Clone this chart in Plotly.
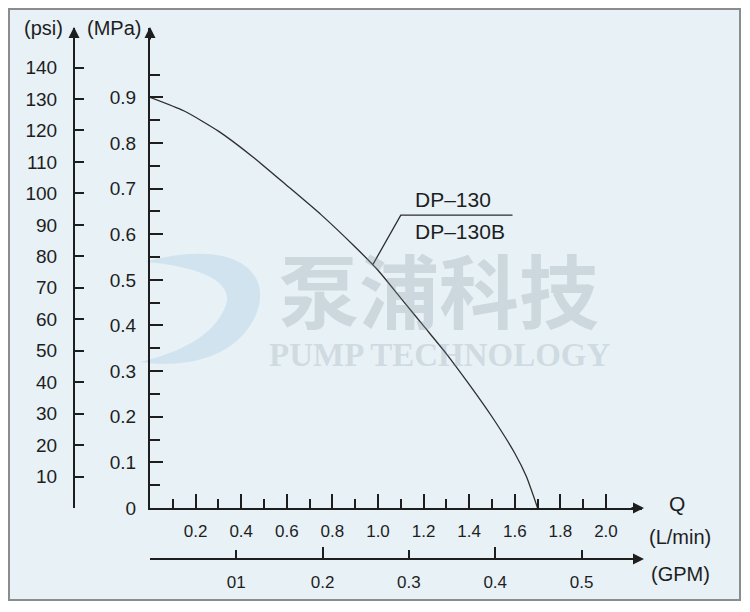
import plotly.graph_objects as go

# ---- data ----
flow_lpm = [0.0, 0.15, 0.30, 0.45, 0.60, 0.75, 0.90, 1.00, 1.10, 1.20, 1.30, 1.40, 1.50, 1.60, 1.65, 1.70]
pressure_mpa = [0.900, 0.870, 0.826, 0.770, 0.707, 0.643, 0.572, 0.521, 0.460, 0.399, 0.338, 0.271, 0.200, 0.120, 0.070, 0.000]

mpa_ticks = [0, 0.1, 0.2, 0.3, 0.4, 0.5, 0.6, 0.7, 0.8, 0.9]
mpa_labels = ["0", "0.1", "0.2", "0.3", "0.4", "0.5", "0.6", "0.7", "0.8", "0.9"]
mpa_minor = [0.05, 0.15, 0.25, 0.35, 0.45, 0.55, 0.65, 0.75, 0.85, 0.95]
psi_ticks = [10, 20, 30, 40, 50, 60, 70, 80, 90, 100, 110, 120, 130, 140]
lpm_ticks = [0.2, 0.4, 0.6, 0.8, 1.0, 1.2, 1.4, 1.6, 1.8, 2.0]
lpm_labels = ["0.2", "0.4", "0.6", "0.8", "1.0", "1.2", "1.4", "1.6", "1.8", "2.0"]
lpm_minor = [0.1, 0.3, 0.5, 0.7, 0.9, 1.1, 1.3, 1.5, 1.7, 1.9]
gpm_ticks = [0.1, 0.2, 0.3, 0.4, 0.5]
gpm_labels = ["01", "0.2", "0.3", "0.4", "0.5"]
gpm_long = [0.2, 0.4]
series_name = ["DP–130", "DP–130B"]

PSI_PER_MPA = 145.038
LPM_PER_GPM = 3.78541
X_MAX = 2.158
Y_MAX = 1.052

PAGE_OFF = 8          # browser body margin
W, H = 742, 604
ML, MR, MT, MB = 4, 4, 4, 4
PW, PH = W - ML - MR, H - MT - MB


def px(x):
    """page pixel x -> paper fraction"""
    return (x - PAGE_OFF - ML) / PW


def py(y):
    """page pixel y -> paper fraction"""
    return (H - MB - (y - PAGE_OFF)) / PH


INK = "#1e1e1e"
FONT = "Liberation Sans, Arial, sans-serif"
BG = "#e7f1f6"

fig = go.Figure()
fig.add_trace(go.Scatter(x=flow_lpm, y=pressure_mpa, mode="lines",
                         line=dict(color="#2e2e2e", width=1.3, shape="spline", smoothing=0.6),
                         hoverinfo="skip", showlegend=False))
# helper traces so the secondary axes get drawn
fig.add_trace(go.Scatter(x=[0], y=[0], xaxis="x2", yaxis="y2", mode="markers", marker=dict(opacity=0),
                         hoverinfo="skip", showlegend=False))
fig.add_trace(go.Scatter(x=[0], y=[0], xaxis="x3", yaxis="y", mode="markers", marker=dict(opacity=0),
                         hoverinfo="skip", showlegend=False))

xdom = [px(150), px(642)]
ydom = [py(508), py(28)]

common = dict(showgrid=False, zeroline=False, showline=True, linecolor=INK, linewidth=2,
              tickcolor=INK, tickwidth=2, ticks="inside", automargin=False,
              tickfont=dict(family=FONT, size=17, color=INK))
yfont = dict(family=FONT, size=19, color=INK)

fig.update_layout(
    width=W, height=H,
    margin=dict(l=ML, r=MR, t=MT, b=MB),
    paper_bgcolor="white", plot_bgcolor="rgba(0,0,0,0)",
    xaxis=dict(domain=xdom, range=[0, X_MAX], anchor="y", tickmode="array", tickvals=lpm_ticks, ticktext=lpm_labels,
               ticklen=14, ticklabelstandoff=7,
               minor=dict(tickmode="array", tickvals=lpm_minor, ticklen=9, tickwidth=1.6, tickcolor=INK, ticks="inside"),
               **common),
    yaxis=dict(domain=ydom, range=[0, Y_MAX], anchor="x", tickmode="array", tickvals=mpa_ticks, ticktext=mpa_labels,
               ticklen=13, ticklabelstandoff=8,
               minor=dict(tickmode="array", tickvals=mpa_minor, ticklen=10, tickwidth=1.6, tickcolor=INK, ticks="inside"),
               **{**common, "tickfont": yfont}),
    yaxis2=dict(domain=ydom, range=[0, Y_MAX * PSI_PER_MPA], overlaying="y", anchor="free", position=px(74), side="left",
                tickmode="array", tickvals=psi_ticks, ticklen=9, ticklabelstandoff=12,
                **{**common, "tickfont": yfont}),
    xaxis2=dict(domain=xdom, range=[0, X_MAX / LPM_PER_GPM], overlaying="x", anchor="free", position=py(559), side="bottom",
                tickmode="array", tickvals=gpm_ticks, ticktext=gpm_labels, ticklen=8, ticklabelstandoff=8, **common),
    xaxis3=dict(domain=xdom, range=[0, X_MAX / LPM_PER_GPM], overlaying="x", anchor="free", position=py(559), side="bottom",
                tickmode="array", tickvals=gpm_long, ticklen=12, showticklabels=False,
                **{**common, "showline": False}),
)

# chart panel with grey frame
fig.add_shape(type="rect", xref="paper", yref="paper", x0=px(9), x1=px(740), y0=py(600), y1=py(9),
              fillcolor=BG, line=dict(color="#8a8c8e", width=2), layer="below")

# faint logo swoosh
fig.add_shape(type="path", xref="paper", yref="paper", layer="below",
              path=(f"M {px(145)},{py(262)} C {px(232)},{py(238)} {px(272)},{py(270)} {px(257)},{py(312)} "
                    f"C {px(242)},{py(352)} {px(195)},{py(370)} {px(140)},{py(362)} "
                    f"C {px(182)},{py(352)} {px(215)},{py(335)} {px(226)},{py(305)} "
                    f"C {px(234)},{py(282)} {px(200)},{py(266)} {px(145)},{py(262)} Z"),
              fillcolor="rgba(190,215,232,0.55)", line=dict(width=0))

# watermark text
fig.add_annotation(x=px(439), y=py(287), xref="paper", yref="paper", text="泵浦科技", showarrow=False,
                   font=dict(family="Noto Sans CJK SC", size=80, color="rgba(140,150,162,0.28)", weight="bold"))
fig.add_annotation(x=px(439), y=py(355), xref="paper", yref="paper", text="PUMP TECHNOLOGY", showarrow=False,
                   font=dict(family="Liberation Serif, serif", size=33, color="rgba(140,150,162,0.25)", weight="bold"))

# axis arrowheads
for (tx, ty, ax, ay) in [(150, 27, 0, 14), (74, 27, 0, 14), (644, 508, -14, 0), (644, 559, -14, 0)]:
    fig.add_annotation(x=px(tx), y=py(ty), xref="paper", yref="paper", ax=ax, ay=ay, text="", showarrow=True,
                       arrowhead=2, arrowsize=1.1, arrowwidth=2, arrowcolor=INK)


def label(x, y, t, size=20, anchor="center"):
    fig.add_annotation(x=px(x), y=py(y), xref="paper", yref="paper", text=t, showarrow=False,
                       xanchor=anchor, yanchor="middle", font=dict(family=FONT, size=size, color=INK))


label(43, 28, "(psi)")
label(114, 28, "(MPa)")
label(677, 503, "Q", 21)
label(680, 537, "(L/min)", 20)
label(680, 574, "(GPM)", 20)

# series leader line & labels
fig.add_shape(type="path", xref="x", yref="y",
              path="M 0.978,0.534 L 1.10,0.642 L 1.59,0.642", line=dict(color="#2e2e2e", width=1.3))
fig.add_annotation(x=1.153, y=0.642, xref="x", yref="y", text=series_name[0], showarrow=False, xanchor="left",
                   yanchor="bottom", yshift=2, font=dict(family=FONT, size=21, color=INK))
fig.add_annotation(x=1.153, y=0.642, xref="x", yref="y", text=series_name[1], showarrow=False, xanchor="left",
                   yanchor="top", yshift=-3, font=dict(family=FONT, size=21, color=INK))

fig.write_html("out.html")
